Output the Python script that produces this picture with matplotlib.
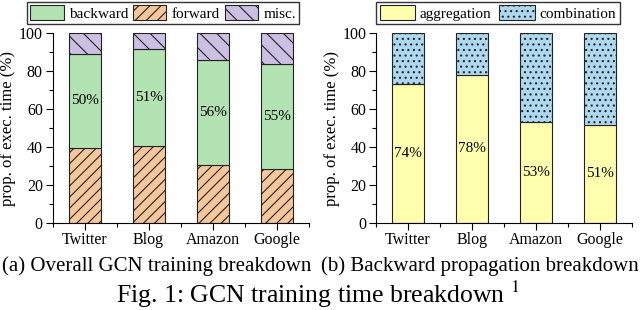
import numpy as np
import matplotlib
matplotlib.use("Agg")
import matplotlib.pyplot as plt
from matplotlib.ticker import MultipleLocator, FixedLocator

plt.rcParams['font.family'] = ['Liberation Serif', 'DejaVu Serif']
plt.rcParams['hatch.linewidth'] = 0.8
plt.rcParams['mathtext.fontset'] = 'stix'

# data
datasets = ["Twitter", "Blog", "Amazon", "Google"]
forward = [39.7, 40.7, 30.6, 28.6]
backward = [49.3, 51.0, 55.3, 55.1]
misc = [11.0, 8.3, 14.1, 16.3]
backward_labels = ["50%", "51%", "56%", "55%"]

aggregation = [73.4, 77.9, 53.4, 51.5]
combination = [26.6, 22.1, 46.6, 48.5]
aggregation_labels = ["74%", "78%", "53%", "51%"]

c_green = "#b3e2b3"
c_orange = "#f7c79c"
c_purple = "#cbbfe3"
c_yellow = "#ffffb0"
c_blue = "#add8f0"
edge = "#222222"

fig = plt.figure(figsize=(6.4, 3.1), dpi=100)
ax1 = fig.add_axes([52.5 / 640, 1 - 222.7 / 310, 256 / 640, 189.4 / 310])
ax2 = fig.add_axes([376 / 640, 1 - 222.7 / 310, 256 / 640, 189.4 / 310])

x = np.arange(len(datasets))
w = 0.5

# (a) overall
fwd = np.array(forward)
bwd = np.array(backward)
ax1.bar(x, fwd, w, color=c_orange, edgecolor=edge, hatch="///", lw=0.8, label="forward")
ax1.bar(x, bwd, w, bottom=fwd, color=c_green, edgecolor=edge, lw=0.8, label="backward")
ax1.bar(x, misc, w, bottom=fwd + bwd, color=c_purple, edgecolor=edge, hatch="\\\\", lw=0.8, label="misc.")
for i in range(len(datasets)):
    ax1.text(x[i], fwd[i] + bwd[i] / 2, backward_labels[i], ha="center", va="center", fontsize=11)

# (b) backward
agg = np.array(aggregation)
ax2.bar(x, agg, w, color=c_yellow, edgecolor=edge, lw=0.8, label="aggregation")
ax2.bar(x, combination, w, bottom=agg, color=c_blue, edgecolor=edge, hatch="...", lw=0.8, label="combination")
for i in range(len(datasets)):
    ax2.text(x[i], agg[i] / 2, aggregation_labels[i], ha="center", va="center", fontsize=11)

for ax in (ax1, ax2):
    ax.set_xlim(-0.5, 3.5)
    ax.set_ylim(0, 100)
    ax.set_xticks(x)
    ax.set_xticklabels(datasets, fontsize=11.5)
    ax.xaxis.set_minor_locator(FixedLocator(np.arange(-0.5, 4, 1)))
    ax.yaxis.set_major_locator(MultipleLocator(20))
    ax.yaxis.set_minor_locator(MultipleLocator(10))
    ax.tick_params(axis="both", which="major", direction="out", length=5, width=0.8, labelsize=11.5, pad=2)
    ax.tick_params(axis="both", which="minor", direction="out", length=3, width=0.8)
    ax.spines["top"].set_visible(False)
    ax.spines["right"].set_visible(False)
    ax.set_ylabel("prop. of exec. time (%)", fontsize=12, labelpad=2)

h, l = ax1.get_legend_handles_labels()
order = [1, 0, 2]
fig.legend([h[k] for k in order], [l[k] for k in order], ncol=3, fontsize=11,
           loc="center", bbox_to_anchor=(163 / 640, 1 - 13 / 310), frameon=True, fancybox=False,
           edgecolor="black", handlelength=2.2, handleheight=1.1, columnspacing=0.3,
           handletextpad=0.35, borderpad=0.2, borderaxespad=0)
h, l = ax2.get_legend_handles_labels()
fig.legend(h, l, ncol=2, fontsize=11,
           loc="center", bbox_to_anchor=(498 / 640, 1 - 13 / 310), frameon=True, fancybox=False,
           edgecolor="black", handlelength=2.3, handleheight=1.1, columnspacing=0.5,
           handletextpad=0.35, borderpad=0.2, borderaxespad=0)

fig.text(157 / 640, 1 - 266 / 310, "(a) Overall GCN training breakdown", ha="center", va="center", fontsize=15)
fig.text(480 / 640, 1 - 266 / 310, "(b) Backward propagation breakdown", ha="center", va="center", fontsize=15)
fig.text(318 / 640, 1 - 303 / 310, r"Fig. 1: GCN training time breakdown $^{1}$", ha="center", va="baseline", fontsize=18.5)

fig.savefig("out.png", dpi=100)
